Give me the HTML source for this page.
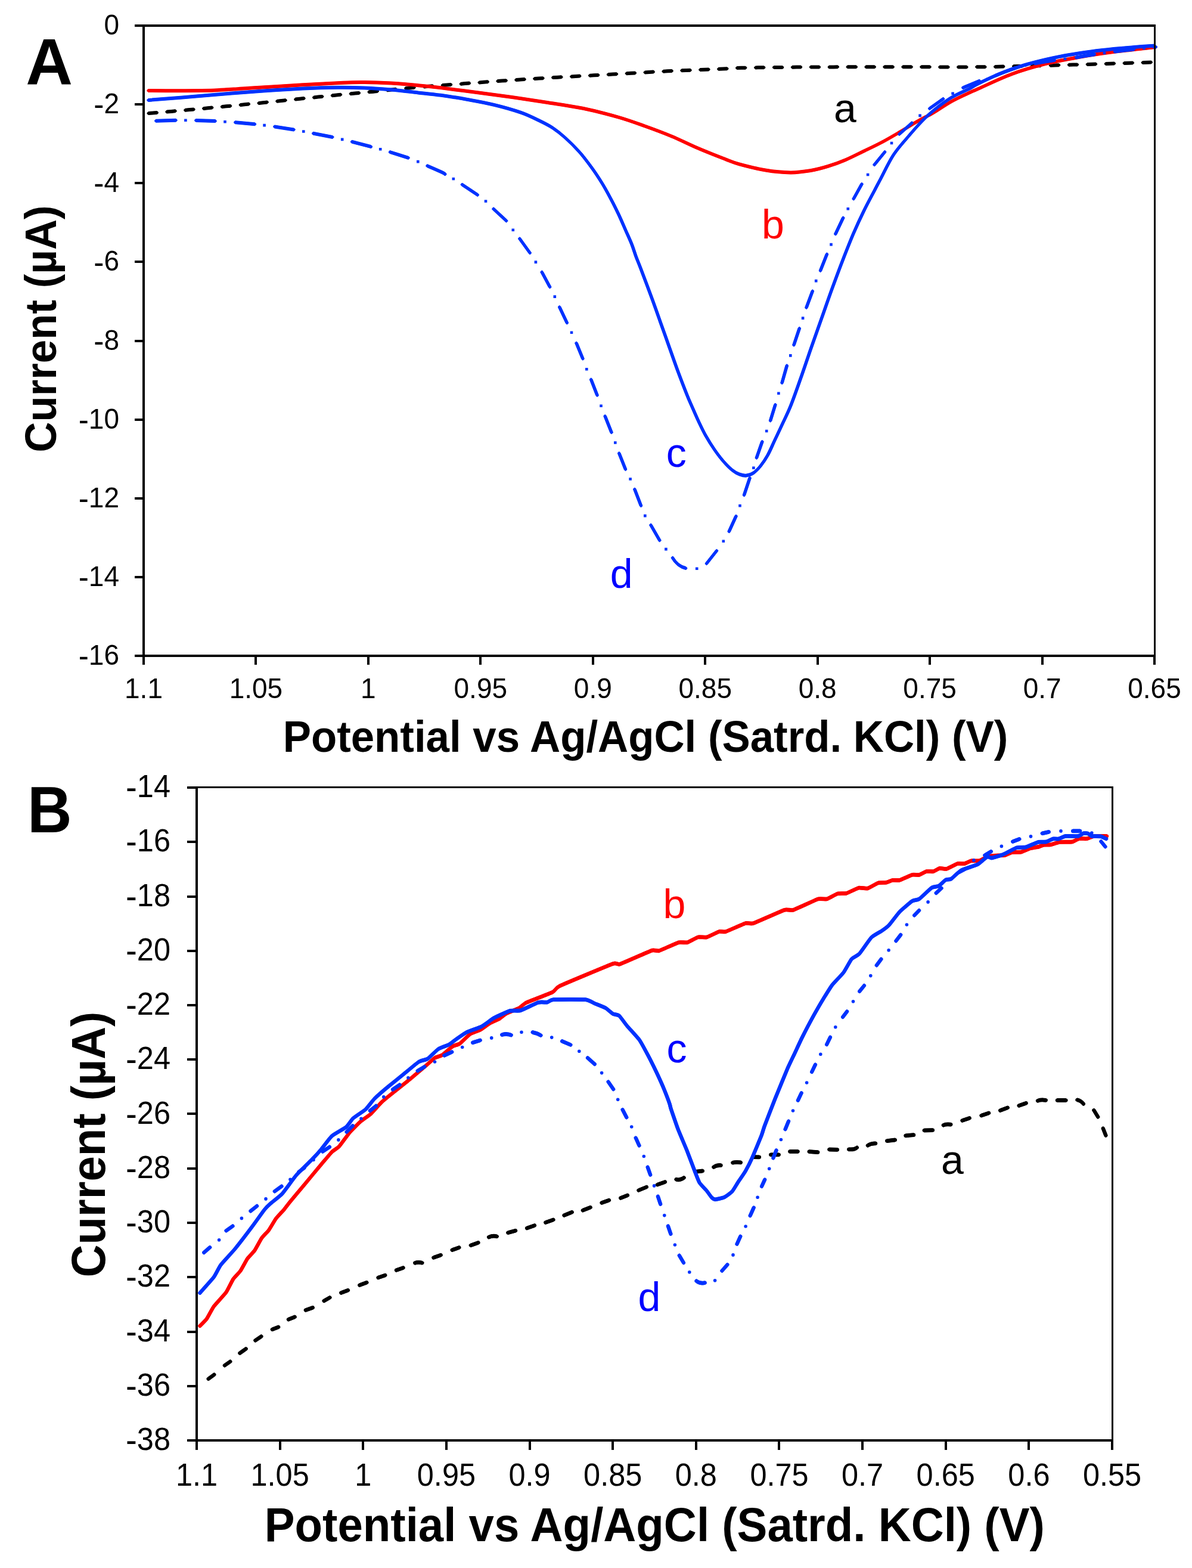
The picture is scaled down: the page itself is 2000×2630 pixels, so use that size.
<!DOCTYPE html>
<html lang="en">
<head>
<meta charset="utf-8">
<title>Figure: voltammograms A and B</title>
<style>
html,body{margin:0;padding:0;background:#fff;}
body{width:2000px;height:2630px;overflow:hidden;font-family:"Liberation Sans",Arial,Helvetica,sans-serif;}
svg{display:block;}
text{font-family:"Liberation Sans",Arial,Helvetica,sans-serif;fill:#000;}
.ax{fill:#000;stroke:none;shape-rendering:crispEdges;}
.yt text{text-anchor:end;}
.xt text{text-anchor:middle;}
.ttl,.pl{font-weight:bold;}
.cv g{fill:none;stroke-linecap:round;stroke-linejoin:round;}
.r{stroke:#ff0000;}
.b{stroke:#0033ff;}
.k{stroke:#000;}
</style>
</head>
<body>
<svg width="2000" height="2630" viewBox="0 0 2000 2630">
<rect width="2000" height="2630" fill="#fff"/>
<g class="cv" id="chartA-curves">
<g class="k"><defs><path id="p1" d="M249.2 190.1L256.2 189.5L263.2 189M280 187.6L287 187L294 186.3M310.9 184.8L317.9 184.1L324.9 183.5M341.7 181.9L348.7 181.3L355.7 180.6M372.5 179L379.5 178.3L386.5 177.7M403.4 176L410.4 175.3L417.4 174.6M434.2 172.9L441.2 172.2L448.2 171.4M465 169.7L472 169L479 168.3M495.9 166.6L502.9 165.8L509.9 165.1M526.7 163.4L533.7 162.6L540.7 161.9M557.5 160.2L564.5 159.5L571.5 158.8M588.4 157.2L595.4 156.5L602.4 155.9M619.2 154.3L626.2 153.7L633.2 153M650 151.3L657 150.5L664 149.8M680.9 148.1L687.9 147.5L694.9 146.8M711.7 145.4L718.7 144.8L725.7 144.3M742.5 143L749.5 142.5L756.5 141.9M773.4 140.7L780.4 140.1L787.4 139.6M804.2 138.4L811.2 137.8L818.2 137.3M835.1 136.1L842.1 135.6L849.1 135.2M866 134L873 133.6L880 133.1M896.9 132L903.9 131.6L910.9 131.2M927.8 130.1L934.8 129.7L941.8 129.3M958.7 128.4L965.7 128L972.7 127.6M989.6 126.7L996.6 126.3L1003.6 125.9M1020.5 125L1027.5 124.6L1034.5 124.2M1051.4 123.2L1058.4 122.8L1065.4 122.4M1082.2 121.4L1089.2 121L1096.2 120.6M1113.1 119.7L1120.1 119.3L1127.1 119M1144 118.3L1151 118L1158 117.7M1174.9 117L1181.9 116.8L1188.9 116.5M1205.8 115.8L1212.8 115.5L1219.8 115.2M1236.7 114L1243.7 113.8L1250.7 113.7M1267.7 113.4L1274.7 113.3L1281.7 113.2M1298.6 113L1305.6 112.9L1312.6 112.9M1329.5 112.7L1336.5 112.6L1343.5 112.6M1360.4 112.5L1367.4 112.4L1374.4 112.4M1391.4 112.4L1398.4 112.4L1405.4 112.3M1422.3 112.3L1429.3 112.3L1436.3 112.3M1453.2 112.3L1460.2 112.3L1467.2 112.3M1484.1 112.3L1491.1 112.3L1498.1 112.3M1515.1 112.3L1522.1 112.3L1529.1 112.3M1546 112.3L1553 112.3L1560 112.3M1576.9 112.4L1583.9 112.4L1590.9 112.4M1607.8 112.4L1614.8 112.4L1621.8 112.4M1638.8 112.3L1645.8 112.2L1652.8 112.2M1669.7 111.9L1676.7 111.8L1683.7 111.6M1700.6 111.3L1707.7 111.1L1714.7 110.9M1731.6 110.5L1738.6 110.3L1745.6 110.2M1762.5 109.7L1769.6 109.5L1776.6 109.3M1793.5 108.8L1800.5 108.6L1807.5 108.4M1824.4 107.9L1831.4 107.7L1838.5 107.5M1855.4 107L1862.4 106.8L1869.4 106.5M1886.3 106L1893.3 105.7L1900.4 105.5M1917.3 104.9L1924.3 104.7L1931.3 104.5"/></defs><use href="#p1" stroke-width="5.0"/><use href="#p1" x="0" y="-2.3" stroke-width="1.4"/><use href="#p1" x="0" y="2.3" stroke-width="1.4"/><use href="#p1" x="-2.15" y="0" stroke-width="1.4"/><use href="#p1" x="2.15" y="0" stroke-width="1.4"/></g>
<g class="r"><defs><path id="p2" d="M249 152.1C255.8 152.1 275.1 152.2 290 152.2C304.9 152.2 325.7 152.1 338.2 151.9C350.7 151.7 356 151.6 365 151.2C374 150.8 383.1 150.2 392 149.6C400.9 149 399.3 149 418.6 147.8C437.9 146.6 481.6 143.8 507.9 142.3C534.2 140.8 558.9 139.4 576.3 138.7C593.6 138 598.6 137.9 612 138.1C625.4 138.2 641.8 138.8 656.7 139.6C671.6 140.4 687.4 141.9 701.3 143.2C715.2 144.5 723.6 145.3 740 147.3C756.4 149.3 779.7 152.5 799.5 155.1C819.3 157.7 839.1 160.3 859 163.1C878.9 165.9 898.8 168.9 918.6 172C938.5 175.1 958.3 177.7 978.1 181.8C997.9 185.9 1020.2 191.6 1037.6 196.6C1055 201.6 1067.4 206.3 1082.3 211.6C1097.2 216.9 1112 222.4 1126.9 228.6C1141.8 234.8 1156.6 242.5 1171.5 248.8C1186.4 255.2 1204.8 262.3 1216.2 266.7C1227.6 271.1 1228.6 272.2 1240 275.3C1251.4 278.4 1270.2 283.1 1284.6 285.5C1299 287.9 1313.9 289.3 1326.3 289.4C1338.7 289.5 1348.6 288 1359 286.3C1369.4 284.6 1378.9 282 1388.8 279C1398.7 276 1408.7 272.4 1418.6 268.2C1428.5 264 1438.4 258.8 1448.3 254C1458.2 249.2 1468.2 244.7 1478.1 239.4C1488 234.2 1498 228.3 1507.9 222.5C1517.8 216.7 1527.7 210.2 1537.6 204.5C1547.5 198.8 1557.5 194.1 1567.4 188.3C1577.3 182.5 1587.2 175.3 1597.1 169.8C1607 164.3 1619.8 158.7 1626.9 155.3C1634.1 151.9 1628.3 154.6 1640 149.5C1651.7 144.4 1678 131.6 1697 124.5C1716 117.4 1735.2 111.9 1754.3 107.1C1773.4 102.3 1792.4 99 1811.4 95.7C1830.5 92.4 1849.5 89.6 1868.6 87.1C1887.6 84.6 1914.3 81.8 1925.7 80.5C1937.1 79.2 1935.1 79.3 1937 79.1"/></defs><use href="#p2" stroke-width="5.0"/><use href="#p2" x="0" y="-2.3" stroke-width="1.4"/><use href="#p2" x="0" y="2.3" stroke-width="1.4"/><use href="#p2" x="-2.15" y="0" stroke-width="1.4"/><use href="#p2" x="2.15" y="0" stroke-width="1.4"/></g>
<g class="b"><defs><path id="p3" d="M261.7 202.7L295 201.8M328.8 202L361.1 203.1M394.8 205.3L427.5 208.2M460.8 212.4L493 217.4M525.7 223.8L557.8 229.9M590.6 237.8L622.4 246.1M654.5 255.1L685 264.7M717 278.2Q748.2 291.4 746.7 292.2M775.4 309.7L801.3 326.9M828 350.4L849.6 370.4M871.9 400.3L889.1 424.1M909.2 456.4L922.6 481.4M938.8 515.1L951.3 541.5M967.1 575.5L977.8 601.6M991.7 636.5L1002 662.9M1015.2 698.1L1026 725.3M1038.8 760.3L1049.5 787.2M1064.9 820.7L1075.5 848.2M1092 880.7L1106.8 906.4M1128.5 935.6Q1136.3 949.4 1150.6 953.1M1185.5 945.2L1202.5 923.8M1223.3 891.4L1234.9 865.9M1248.5 830.4L1258 801.9M1269.4 767.9L1278.8 740.9M1292.6 705.6L1300.8 678.9M1312.1 642.1L1320.3 613.3M1332 578.6L1341.3 550.8M1353 515.9L1363.3 488.3M1376.5 454L1387.4 426.4M1401.9 392.4L1414.7 365.4M1432.2 333.5L1445.9 308.8M1467.1 276.3L1484.6 254.9M1509 225L1530 206.2M1559.7 182L1582.6 165.9M1615.8 147.1L1643.4 135.8M1670.4 126.8Q1687 119.5 1703.6 114M1736.5 106.4Q1753 103.4 1769.5 101M1805.5 96.4Q1821 93.7 1836.5 91.3M1870.5 86.6Q1886.5 84.5 1902.5 82.8M1936.1 79Q1937.7 78.7 1939.4 78.8"/></defs><use href="#p3" stroke-width="5.0"/><use href="#p3" x="0" y="-2.3" stroke-width="1.4"/><use href="#p3" x="0" y="2.3" stroke-width="1.4"/><use href="#p3" x="-2.15" y="0" stroke-width="1.4"/><use href="#p3" x="2.15" y="0" stroke-width="1.4"/><path stroke-width="4.6" stroke-linecap="square" d="M311.4 201.8h0M377.5 204.2h0M443.6 210.1h0M509.3 220.5h0M574.2 233.9h0M638.2 250.3h0M701.3 271.1h0M760.8 300h0M815 337.5h0M860.8 385.7h0M898.9 439.6h0M930.8 497.6h0M959 557.7h0M984.3 619.3h0M1008.5 680.8h0M1032.3 742.5h0M1057.6 803.5h0M1082.3 865.1h0M1117.4 921.1h0M1169.2 953.8h0M1213.8 907.7h0M1241.5 848.2h0M1264.4 784.8h0M1286.2 723h0M1306.4 659.8h0M1326.3 596.4h0M1347.1 533.6h0M1369.2 471.1h0M1394.5 410.1h0M1422.8 350.2h0M1456.1 293h0M1496 240h0M1543.6 193.9h0M1598.6 156.7h0M1657.5 132.6h0M1720 109.6h0M1787 98.8h0M1853 88.9h0M1919.5 80.9h0"/></g>
<g class="b"><defs><path id="p4" d="M249 168C262.4 166.9 301 163.9 329.3 161.6C357.6 159.3 388.8 156.4 418.6 154.2C448.4 152 483.1 149.8 507.9 148.5C532.7 147.2 550 146.8 567.4 146.7C584.8 146.5 597.1 146.9 612 147.6C626.9 148.2 641.8 149.3 656.7 150.6C671.6 151.9 687.4 153.9 701.3 155.4C715.2 156.9 726.1 157.9 740 159.8C753.9 161.7 769.7 164.3 784.6 167C799.5 169.7 814.4 172.3 829.3 175.9C844.2 179.5 861.5 184.4 873.9 188.7C886.3 193 894.8 197.5 903.7 201.8C912.6 206.1 920.1 209.7 927.5 214.6C934.9 219.5 940.9 224.3 948.3 231C955.7 237.7 964.6 246.4 972.1 254.8C979.6 263.2 986.5 272.6 993 281.5C999.5 290.4 1005.3 299.4 1010.8 308.3C1016.2 317.2 1021.2 326.7 1025.7 335.1C1030.2 343.5 1033.6 350.5 1037.6 358.9C1041.6 367.3 1045.8 377.3 1049.5 385.7C1053.2 394.1 1057 402.1 1059.9 409.5C1062.8 416.9 1064.5 423.1 1067 430C1069.5 436.9 1070.8 439.2 1075.1 450.6C1079.4 462 1087.5 483.3 1093 498.2C1098.5 513.1 1103 526 1107.9 539.9C1112.9 553.8 1117.8 567.6 1122.7 581.5C1127.7 595.4 1132.6 609.8 1137.6 623.2C1142.6 636.6 1148.7 652.4 1152.5 661.9C1156.3 671.4 1156.9 672.5 1160.2 680C1163.5 687.5 1168.1 698.4 1172.1 706.8C1176.1 715.2 1179.5 722.7 1184 730.6C1188.5 738.5 1193.9 747.2 1198.9 754.4C1203.9 761.6 1208.8 768.1 1213.8 773.8C1218.8 779.5 1224.2 785 1228.7 788.6C1233.2 792.2 1236.6 794 1240.6 795.5C1244.6 797 1248.5 798 1252.5 797.6C1256.5 797.2 1260.4 795.8 1264.4 793.1C1268.4 790.4 1272.3 786.2 1276.3 781.2C1280.3 776.2 1284.2 770.5 1288.2 763.3C1292.2 756.1 1296.1 746.4 1300.1 738C1304.1 729.6 1307.5 722.4 1312 712.7C1316.5 703 1321.3 694 1326.9 680C1332.5 666 1339.9 644.6 1345.4 628.9C1351 613.2 1354.8 601.3 1360.2 585.7C1365.7 570.1 1372.1 552 1378.1 535.1C1384.1 518.2 1390 500.9 1396 484.5C1402 468.1 1407.8 452.3 1413.8 436.9C1419.8 421.5 1425.8 406.2 1431.7 392.3C1437.7 378.4 1443.5 365.8 1449.5 353.6C1455.5 341.4 1462.6 328.4 1467.4 319.3C1472.2 310.2 1472.8 308.9 1478.1 299C1483.3 289.1 1491.5 271.6 1498.9 260.2C1506.3 248.8 1514.8 239.9 1522.7 230.5C1530.6 221.1 1539 211.4 1546.5 203.7C1554 196 1559 191.2 1567.4 184.5C1575.8 177.8 1587.2 169.2 1597.1 163.2C1607 157.2 1619.8 152.3 1626.9 148.6C1634.1 144.9 1631.5 145.2 1640 141C1648.5 136.8 1665.3 128.7 1678 123.5C1690.7 118.3 1703.3 113.9 1716 110C1728.7 106.1 1741.6 103 1754.3 100C1767 97 1779.7 94.5 1792.4 92.2C1805.1 89.9 1817.8 88.1 1830.5 86.4C1843.2 84.7 1855.9 83.3 1868.6 82C1881.3 80.7 1895.4 79.7 1906.7 78.8C1918 77.9 1931.5 77.1 1936.5 76.8"/></defs><use href="#p4" stroke-width="5.0"/><use href="#p4" x="0" y="-2.3" stroke-width="1.4"/><use href="#p4" x="0" y="2.3" stroke-width="1.4"/><use href="#p4" x="-2.15" y="0" stroke-width="1.4"/><use href="#p4" x="2.15" y="0" stroke-width="1.4"/></g>
</g>
<path class="ax" d="M239 41H243V1115H239ZM226 41H241V45H226ZM241 41H1939V45H241ZM1936 41H1939V1100H1936ZM226 1098H1939V1102H226ZM226 173H241V177H226ZM226 305H241V309H226ZM226 437H241V441H226ZM226 570H241V574H226ZM226 702H241V706H226ZM226 834H241V838H226ZM226 966H241V970H226ZM427 1100H431V1115H427ZM616 1100H620V1115H616ZM804 1100H808V1115H804ZM993 1100H997V1115H993ZM1181 1100H1185V1115H1181ZM1370 1100H1374V1115H1370ZM1558 1100H1562V1115H1558ZM1747 1100H1751V1115H1747ZM1935 1100H1939V1115H1935Z"/>
<g class="tk yt" font-size="46">
<text transform="translate(200 58) scale(1 1.05)">0</text>
<text transform="translate(200 190.1) scale(1 1.05)"><tspan font-size="51.5" dy="3">-</tspan><tspan dx="0" dy="-3">2</tspan></text>
<text transform="translate(200 322.2) scale(1 1.05)"><tspan font-size="51.5" dy="3">-</tspan><tspan dx="0" dy="-3">4</tspan></text>
<text transform="translate(200 454.4) scale(1 1.05)"><tspan font-size="51.5" dy="3">-</tspan><tspan dx="0" dy="-3">6</tspan></text>
<text transform="translate(200 586.5) scale(1 1.05)"><tspan font-size="51.5" dy="3">-</tspan><tspan dx="0" dy="-3">8</tspan></text>
<text transform="translate(200 718.6) scale(1 1.05)"><tspan font-size="51.5" dy="3">-</tspan><tspan dx="0" dy="-3">10</tspan></text>
<text transform="translate(200 850.8) scale(1 1.05)"><tspan font-size="51.5" dy="3">-</tspan><tspan dx="0" dy="-3">12</tspan></text>
<text transform="translate(200 982.9) scale(1 1.05)"><tspan font-size="51.5" dy="3">-</tspan><tspan dx="0" dy="-3">14</tspan></text>
<text transform="translate(200 1115) scale(1 1.05)"><tspan font-size="51.5" dy="3">-</tspan><tspan dx="0" dy="-3">16</tspan></text>
</g><g class="tk xt" font-size="46">
<text transform="translate(241 1170.5) scale(1 1.05)">1.1</text>
<text transform="translate(429.4 1170.5) scale(1 1.05)">1.05</text>
<text transform="translate(617.9 1170.5) scale(1 1.05)">1</text>
<text transform="translate(806.3 1170.5) scale(1 1.05)">0.95</text>
<text transform="translate(994.8 1170.5) scale(1 1.05)">0.9</text>
<text transform="translate(1183.2 1170.5) scale(1 1.05)">0.85</text>
<text transform="translate(1371.7 1170.5) scale(1 1.05)">0.8</text>
<text transform="translate(1560.1 1170.5) scale(1 1.05)">0.75</text>
<text transform="translate(1748.6 1170.5) scale(1 1.05)">0.7</text>
<text transform="translate(1937 1170.5) scale(1 1.05)">0.65</text>
</g>
<g class="cv" id="chartB-curves">
<g class="k"><defs><path id="p5" d="M349.7 2312.8L359.3 2305.7M376.9 2290.3L386.3 2283.7M402.4 2269.6L412.7 2262.4M428.4 2248.3L438.4 2241.6M456.8 2229.9L467.2 2225.9M483.9 2213.2L494.7 2208.9M512.8 2197.5L524.8 2193.3M543.6 2182L553.4 2176.4M572.2 2168.5L584 2164.1M603.2 2155.7L615.4 2151.2M634.5 2143L646.3 2139M664.9 2130.5L676.6 2126.5M696.2 2118.3Q701.7 2116.6 708.4 2118.2M727.4 2109.4L739.7 2105.1M758.6 2096.7L770.4 2092.5M789.8 2088.8L802.5 2084.3M820 2075.1Q827.1 2071.9 833.8 2073.9M852.2 2067.7L865.1 2064.2M884 2060L897 2055.5M915.3 2050.5L928.5 2045.9M946.5 2038.5L959.8 2033.2M977.8 2030.2L990.7 2025.2M1009.5 2017.5L1022 2013.1M1041.2 2009.5L1053 2004.9M1071.4 1996.5L1084.9 1991M1102.8 1987.1L1116 1982.5M1134.5 1978.2Q1141 1980.2 1147.6 1975.4M1166.5 1965.4L1178.9 1964M1197.4 1957.6Q1202.5 1953.9 1209.5 1954.6M1229.3 1950.2Q1235.9 1948.7 1242.9 1949.9M1263.4 1940.5L1274 1940.9M1293.1 1936.8L1306.8 1936.8M1325.3 1931.4L1338.6 1931.4M1357.7 1931.6L1372.2 1932.7M1391.3 1928L1405 1928.4M1424.1 1927.8Q1433 1928.7 1437.9 1924.9M1455.9 1921.3Q1461.5 1917.6 1469.1 1917.9M1488.2 1913.7L1501.9 1912M1519.5 1904.8L1533.1 1903.7M1550.7 1896L1565 1895.6M1582.8 1887.3Q1586.9 1885.2 1595.3 1886.2M1614.5 1879.5L1626.8 1875.4M1646.5 1871.1L1659.2 1866.9M1678.1 1862.7L1690.8 1857.9M1709.6 1854.5L1721.7 1850.3M1741 1846.3Q1746 1844.1 1754.9 1845.4M1773.9 1845.5L1788.5 1845.5M1807.4 1844.8Q1813.3 1845.9 1817.9 1851.5M1835.4 1862.2L1842.2 1873.4M1850.8 1892.7L1855.4 1904.5"/></defs><use href="#p5" stroke-width="6.2"/><use href="#p5" x="0" y="-2.8" stroke-width="1.2"/><use href="#p5" x="0" y="2.8" stroke-width="1.2"/><use href="#p5" x="-2.5" y="0" stroke-width="1.2"/><use href="#p5" x="2.5" y="0" stroke-width="1.2"/></g>
<g class="r"><defs><path id="p6" d="M335.5 2224C336.2 2223.3 345.4 2214.1 346.8 2212.1C348.2 2210.1 356.7 2194.1 358.7 2191.3C360.7 2188.5 377.5 2170.4 379.5 2167.5C381.5 2164.6 389.9 2147.4 391.4 2145.2C392.9 2143 401.8 2133.9 403.3 2131.8C404.8 2129.7 413.7 2113.1 415.2 2111C416.7 2108.9 425.6 2099.7 427.1 2097.6C428.6 2095.5 437.5 2078.8 439 2076.7C440.5 2074.6 449.5 2065.3 451 2063.3C452.5 2061.3 461.3 2046.2 462.9 2044C464.5 2041.8 475 2030.7 476.5 2028.9C478 2027.1 484.6 2018.2 486.7 2015.7C488.8 2013.2 506 1992.6 509.3 1988.7C512.6 1984.8 536 1956.5 539 1953C542 1949.5 555 1934 556.9 1932.1C558.8 1930.2 566.9 1925.2 568.8 1923.2C570.7 1921.2 584.5 1902 586.7 1899.4C588.9 1896.8 602.3 1883.5 604.5 1881.5C606.7 1879.5 620.2 1870.2 622.4 1868.2C624.6 1866.2 638 1850.9 640.2 1848.8C642.4 1846.7 655.1 1836.3 658.1 1833.9C661.1 1831.5 684.2 1813.2 687.9 1810.1C691.6 1807 715 1787 717.6 1784.8C720.2 1782.6 728 1775.3 729.5 1774.4C731 1773.5 739.5 1771.1 741.4 1769.9C743.3 1768.7 757.4 1756.3 759.3 1755.1C761.2 1753.9 769.3 1751.9 771.2 1750.6C773.1 1749.3 786.8 1735.7 789 1734.2C791.2 1732.7 804.9 1727.9 806.9 1726.8C808.9 1725.7 819.9 1717.5 821.8 1716.4C823.7 1715.3 836.1 1709.8 837.9 1708.8C839.6 1707.8 847.8 1701 849.8 1699.9C851.8 1698.8 868.6 1692.1 870.6 1691C872.6 1689.9 879 1683.7 882.5 1682C886 1680.3 923.6 1666 927.1 1664.2C930.6 1662.4 932.7 1656.8 939 1653.8C945.3 1650.8 1022 1618.8 1028.3 1616.5C1034.6 1614.2 1036.1 1618.5 1040.2 1617.1C1044.3 1615.7 1089.7 1595.6 1093.8 1594.2C1097.9 1592.8 1102.9 1595.6 1105.7 1594.8C1108.5 1594 1135.5 1581.7 1138.5 1580.8C1141.5 1579.9 1151.3 1581.4 1153.3 1580.8C1155.3 1580.2 1169.2 1572.5 1171.2 1571.9C1173.2 1571.3 1183.9 1572.5 1186.1 1571.9C1188.3 1571.3 1204.9 1563 1206.9 1562.4C1208.9 1561.8 1215.2 1563.5 1217.9 1562.6C1220.6 1561.7 1247.7 1549.5 1250.6 1548.6C1253.5 1547.7 1259.9 1550 1264 1548.6C1268.1 1547.2 1311.9 1527.7 1316.1 1526.3C1320.3 1524.9 1327.5 1527.5 1331 1526.3C1334.5 1525.1 1369.1 1509.1 1372.6 1507.9C1376.1 1506.8 1385.5 1508.5 1387.5 1507.9C1389.5 1507.3 1403.4 1499.5 1405.4 1498.9C1407.4 1498.3 1418 1498.9 1420.2 1498.3C1422.4 1497.7 1438.9 1489.6 1441.1 1489.1C1443.3 1488.6 1454 1490.5 1456 1490C1458 1489.5 1471.8 1481.4 1473.8 1480.8C1475.8 1480.2 1485.7 1480.5 1487.2 1480.2C1488.7 1479.9 1496.2 1476.5 1497.6 1476.3C1499 1476.1 1507.5 1476.9 1509.5 1476.3C1511.5 1475.7 1528.4 1468 1530.4 1467.4C1532.5 1466.8 1540.8 1467.8 1542.3 1467.4C1543.8 1467 1552.7 1462.1 1554.2 1461.7C1555.7 1461.3 1564.7 1462 1566.1 1461.7C1567.5 1461.4 1575.1 1456.7 1576.5 1456.4C1577.9 1456.1 1586.5 1457.8 1588.4 1457.3C1590.3 1456.8 1604.8 1449.1 1606.7 1448.6C1608.6 1448.1 1616.7 1448.9 1618.1 1448.6C1619.5 1448.3 1628 1444.1 1629.5 1443.8C1631 1443.5 1641.2 1444.2 1642.9 1443.8C1644.6 1443.4 1654.5 1437.6 1656.2 1437.1C1657.9 1436.6 1667.6 1435.4 1669.5 1435.2C1671.4 1435 1684.9 1434.7 1686.7 1434.3C1688.5 1433.9 1696.4 1429.8 1698.1 1429.5C1699.8 1429.2 1711.4 1429.5 1713.3 1429.1C1715.2 1428.7 1726.7 1423.5 1728.6 1422.9C1730.5 1422.3 1742.4 1420.4 1743.8 1420C1745.2 1419.6 1750.2 1417.3 1751.4 1417.1C1752.6 1416.9 1761.2 1417.1 1762.9 1416.8C1764.6 1416.5 1775.8 1412.7 1778.1 1412.4C1780.4 1412.1 1797 1412.4 1799 1412C1801 1411.6 1809 1407 1810.5 1406.7C1812 1406.4 1822.3 1407 1823.8 1406.7C1825.3 1406.4 1833.1 1402.8 1835.2 1402.5C1837.3 1402.2 1855.7 1402.5 1857.1 1402.5"/></defs><use href="#p6" stroke-width="6.2"/><use href="#p6" x="0" y="-2.8" stroke-width="1.2"/><use href="#p6" x="0" y="2.8" stroke-width="1.2"/><use href="#p6" x="-2.5" y="0" stroke-width="1.2"/><use href="#p6" x="2.5" y="0" stroke-width="1.2"/></g>
<g class="b"><defs><path id="p7" d="M342.2 2100.9L352.2 2092.2M379.5 2064.2L390.5 2056.5M420.5 2031.3L431.1 2022.9M460.8 1998.2L472.5 1989.8M501.3 1965.7L510.6 1958.7M541.4 1931.5L553 1923.8M581.5 1898.6L591.8 1888.3M620.9 1863L631 1854.9M659 1827.4L670.6 1819.6M700.7 1796.1L712.3 1789.3M745.4 1770.3L758.3 1764.5M793.1 1748.8L805.8 1744.9M842.1 1735.6Q850.1 1733.1 857.7 1736.2M893.6 1731.5Q901.5 1732.9 907.4 1736.6M943 1746.4L957.4 1752.5M986 1774.4L997.8 1784.9M1020.6 1814.5L1029.2 1827M1044.6 1861.3L1051.3 1874.2M1066.7 1908.6L1072.5 1921.5M1086.7 1957.7L1091.2 1970.6M1103.9 2006.8L1108.2 2019.7M1120.9 2056.5L1125.4 2069.7M1139.8 2105.8L1147 2118M1168.5 2148.6Q1174.4 2153.5 1182.8 2151.7M1211.4 2131.5L1220.4 2121.2M1236.5 2086.7L1242.3 2073.8M1258.7 2039.1L1264.7 2025.6M1278 1990L1283.2 1978.6M1297.4 1942.3L1302.5 1929.5M1317.6 1894.1L1323.1 1880.6M1338.9 1845.6L1344.7 1833.3M1362.1 1798L1368 1785.7M1387.1 1752L1393 1739.8M1414.1 1705.9L1421.1 1696.6M1442.2 1662.8L1450 1653.1M1470.8 1619.1L1478.4 1608.8M1503.4 1578.2L1511.2 1568M1534.1 1535.3L1542.1 1527.1M1570.7 1497.9L1579.6 1489.8M1609.5 1462.7L1619 1457.7M1652.3 1434.6L1662.9 1428.2M1699.1 1411.6L1710.4 1407.4M1748.7 1397.9L1759.9 1395.4M1800.1 1393.9L1812.2 1393.9M1847.4 1411.4L1854.5 1420.1"/></defs><use href="#p7" stroke-width="6.2"/><use href="#p7" x="0" y="-2.8" stroke-width="1.2"/><use href="#p7" x="0" y="2.8" stroke-width="1.2"/><use href="#p7" x="-2.5" y="0" stroke-width="1.2"/><use href="#p7" x="2.5" y="0" stroke-width="1.2"/><path stroke-width="5.6" stroke-linecap="round" d="M367.6 2079.7h0M405.4 2043.4h0M446 2010.9h0M487 1978.3h0M526 1945.5h0M567.9 1911.9h0M606 1876.2h0M643.8 1839.9h0M684.9 1807.7h0M729.5 1781h0M775.7 1756.5h0M824.7 1740.9h0M875 1731.2h0M925.7 1740.1h0M971.8 1763.3h0M1009.6 1799.6h0M1036.7 1844.2h0M1059.7 1890h0M1080.3 1939.5h0M1097.6 1988.9h0M1114.8 2038.6h0M1132.4 2088h0M1156.8 2133.8h0M1199.6 2147.8h0M1230 2104.9h0M1251.1 2057h0M1271.1 2008.2h0M1290.7 1960.3h0M1310.4 1911.5h0M1330.5 1863h0M1353.6 1816h0M1376.8 1768.2h0M1401.8 1722.7h0M1431.5 1679.7h0M1460.8 1636.6h0M1491.1 1593.7h0M1521.4 1551h0M1557.1 1512.9h0M1595.8 1474.6h0M1633.9 1442.9h0M1680.4 1419.4h0M1729.5 1402.9h0M1780 1393.9h0M1831.8 1397.1h0"/></g>
<g class="b"><defs><path id="p8" d="M335.5 2168.6C337.4 2166.4 355.8 2146.1 358.7 2142.2C361.6 2138.3 367.6 2125.4 370.6 2121.4C373.6 2117.4 389.9 2100.1 394.4 2094.6C398.9 2089.1 420.1 2061.4 424.2 2055.9C428.3 2050.4 441.3 2032 443.8 2028.9C446.3 2025.8 451.4 2020.9 453.9 2018.7C456.4 2016.5 470 2006.1 473.6 2002.1C477.2 1998.1 493.2 1975.6 497.4 1970.8C501.6 1966 520.7 1947.6 524.2 1944C527.7 1940.4 536.3 1930.9 539 1927.7C541.7 1924.5 553.4 1908.5 556.9 1905.4C560.4 1902.3 577.7 1893 580.7 1890.5C583.7 1888 589.9 1878.1 592.6 1875.6C595.3 1873.1 610.5 1863.4 613.5 1860.7C616.5 1858 625.1 1846.1 628.3 1842.9C631.5 1839.7 648.1 1825.3 652.1 1822C656.1 1818.7 671.8 1806.1 676 1802.7C680.2 1799.3 699.2 1783.2 702.7 1781C706.2 1778.8 714.9 1777.7 717.6 1775.9C720.3 1774.1 732.5 1761.5 735.5 1759.5C738.5 1757.5 750.8 1753.5 753.3 1752.1C755.8 1750.7 762.7 1744.9 765.2 1743.2C767.7 1741.5 779.6 1733 783.1 1731.3C786.6 1729.6 803.9 1723.7 806.9 1722.3C809.9 1720.9 817 1715.7 818.8 1714.4C820.6 1713.2 825.8 1708.9 828.9 1707.3C832 1705.7 852 1696.4 855.7 1695.4C859.4 1694.4 869.6 1696 873.6 1694.8C877.6 1693.6 899.6 1682.5 903.3 1681.4C907 1680.3 916.1 1681.5 918.2 1681.1C920.3 1680.7 923.3 1677.1 928.6 1676.7C933.9 1676.3 976.4 1676.1 982.2 1676.7C988 1677.3 995.8 1682.3 998.6 1683.5C1001.5 1684.7 1013.9 1689.5 1016.4 1690.9C1018.9 1692.3 1026.4 1699.5 1028.3 1700.5C1030.2 1701.5 1036.8 1701.8 1038.8 1703.5C1040.8 1705.2 1049.2 1717.3 1052.1 1720.7C1054.9 1724.1 1070 1740.3 1073 1744.5C1076 1748.7 1085.4 1766.6 1087.9 1771.3C1090.4 1776 1100.5 1796.4 1102.7 1801.1C1104.9 1805.8 1112.9 1823.7 1114.6 1827.9C1116.3 1832.1 1122.7 1849 1123.6 1851.7C1124.5 1854.4 1124.6 1856.5 1125.8 1860C1127 1863.5 1135.5 1888.4 1137.7 1894.2C1139.9 1900 1150.4 1924.3 1152.6 1929.9C1154.8 1935.5 1162.8 1956.7 1164.5 1961.2C1166.2 1965.7 1171.8 1980.5 1173.5 1983.5C1175.2 1986.5 1183.7 1994.8 1185.4 1996.9C1187.1 1999 1193.1 2007.6 1194.3 2008.8C1195.5 2010 1198.5 2011.8 1200.2 2011.8C1201.9 2011.8 1212.7 2009.3 1215.1 2008.2C1217.5 2007.1 1226.5 2000.6 1228.5 1998.4C1230.5 1996.2 1237 1984.8 1238.9 1982C1240.8 1979.2 1248.8 1967.7 1250.8 1964.2C1252.8 1960.7 1260.5 1945.4 1262.7 1940.4C1264.9 1935.4 1275.9 1908.9 1277.6 1904.6C1279.3 1900.3 1280.8 1894.1 1282.7 1888.9C1284.6 1883.7 1297.4 1850.8 1300.6 1842.7C1303.8 1834.6 1318.8 1798.3 1321.4 1792.1C1324.1 1785.9 1330.4 1773 1332.4 1768.8C1334.4 1764.6 1343.3 1745.3 1345.2 1741.5C1347.1 1737.7 1353 1726.1 1354.8 1722.7C1356.6 1719.3 1364.3 1704.9 1366.5 1701C1368.7 1697.1 1378.5 1680.1 1381 1676.1C1383.5 1672.1 1393.1 1656.3 1396 1652.5C1398.9 1648.7 1412.8 1634.7 1415.5 1631C1418.2 1627.3 1426.7 1611.2 1428.9 1608.6C1431.1 1606 1439.2 1602.7 1442 1599.7C1444.8 1596.7 1458.9 1575.6 1462 1572.4C1465.1 1569.2 1476.7 1563.2 1479.2 1561.5C1481.7 1559.8 1489.2 1554.3 1491.7 1551.6C1494.2 1548.9 1506.3 1532.6 1509.5 1529.3C1512.7 1526 1527.7 1513.2 1530.4 1511.4C1533.1 1509.6 1539.6 1509.8 1542.3 1507.9C1545 1506 1560.4 1490.9 1563.1 1489.1C1565.8 1487.3 1573 1487.2 1575 1486.1C1577 1485 1585.2 1476.7 1586.9 1475.7C1588.6 1474.7 1593.7 1475.5 1595.8 1474.2C1597.9 1472.9 1608.6 1462.1 1612.4 1460C1616.2 1457.9 1637.3 1451.4 1641 1449.5C1644.7 1447.6 1654.3 1438 1656.2 1437.1C1658.1 1436.2 1661.6 1439.3 1663.8 1439C1666 1438.7 1679.4 1434.7 1682.9 1433.3C1686.4 1431.9 1702.5 1422.9 1705.7 1421.9C1708.9 1420.9 1718 1421.8 1721 1421C1724 1420.2 1739.1 1413.2 1741.9 1412.4C1744.8 1411.7 1753.1 1412.5 1755.2 1412C1757.3 1411.5 1765 1407.4 1766.7 1407C1768.5 1406.6 1774.5 1407.4 1776.2 1407C1777.9 1406.6 1784.9 1402.9 1787.6 1402.5C1790.3 1402.1 1806.1 1402.9 1808.6 1402.5C1811.1 1402.1 1816.7 1398.1 1818.1 1397.7C1819.5 1397.3 1824.6 1397.7 1825.7 1398.1C1826.8 1398.5 1829.7 1402.1 1831.4 1402.5C1833.2 1402.9 1844.6 1402.5 1846.7 1402.9C1848.8 1403.3 1855.4 1406.7 1856.2 1407"/></defs><use href="#p8" stroke-width="6.2"/><use href="#p8" x="0" y="-2.8" stroke-width="1.2"/><use href="#p8" x="0" y="2.8" stroke-width="1.2"/><use href="#p8" x="-2.5" y="0" stroke-width="1.2"/><use href="#p8" x="2.5" y="0" stroke-width="1.2"/></g>
</g>
<path class="ax" d="M328 1319H332V2432H328ZM314 1319H330V1323H314ZM330 1319H1868V1322H330ZM1865 1319H1868V2416H1865ZM314 2414H1868V2418H314ZM314 1410H330V1414H314ZM314 1502H330V1506H314ZM314 1593H330V1597H314ZM314 1684H330V1688H314ZM314 1775H330V1779H314ZM314 1866H330V1870H314ZM314 1958H330V1962H314ZM314 2049H330V2053H314ZM314 2140H330V2144H314ZM314 2232H330V2236H314ZM314 2323H330V2327H314ZM468 2416H472V2432H468ZM607 2416H611V2432H607ZM747 2416H751V2432H747ZM887 2416H891V2432H887ZM1026 2416H1030V2432H1026ZM1166 2416H1170V2432H1166ZM1305 2416H1309V2432H1305ZM1445 2416H1449V2432H1445ZM1585 2416H1589V2432H1585ZM1724 2416H1728V2432H1724ZM1864 2416H1868V2432H1864Z"/>
<g class="tk yt" font-size="50.5">
<text transform="translate(286 1337) scale(1 1.045)"><tspan font-size="56.6" dy="3">-</tspan><tspan dx="0" dy="-3">14</tspan></text>
<text transform="translate(286 1428.2) scale(1 1.045)"><tspan font-size="56.6" dy="3">-</tspan><tspan dx="0" dy="-3">16</tspan></text>
<text transform="translate(286 1519.5) scale(1 1.045)"><tspan font-size="56.6" dy="3">-</tspan><tspan dx="0" dy="-3">18</tspan></text>
<text transform="translate(286 1610.8) scale(1 1.045)"><tspan font-size="56.6" dy="3">-</tspan><tspan dx="0" dy="-3">20</tspan></text>
<text transform="translate(286 1702) scale(1 1.045)"><tspan font-size="56.6" dy="3">-</tspan><tspan dx="0" dy="-3">22</tspan></text>
<text transform="translate(286 1793.2) scale(1 1.045)"><tspan font-size="56.6" dy="3">-</tspan><tspan dx="0" dy="-3">24</tspan></text>
<text transform="translate(286 1884.5) scale(1 1.045)"><tspan font-size="56.6" dy="3">-</tspan><tspan dx="0" dy="-3">26</tspan></text>
<text transform="translate(286 1975.8) scale(1 1.045)"><tspan font-size="56.6" dy="3">-</tspan><tspan dx="0" dy="-3">28</tspan></text>
<text transform="translate(286 2067) scale(1 1.045)"><tspan font-size="56.6" dy="3">-</tspan><tspan dx="0" dy="-3">30</tspan></text>
<text transform="translate(286 2158.2) scale(1 1.045)"><tspan font-size="56.6" dy="3">-</tspan><tspan dx="0" dy="-3">32</tspan></text>
<text transform="translate(286 2249.5) scale(1 1.045)"><tspan font-size="56.6" dy="3">-</tspan><tspan dx="0" dy="-3">34</tspan></text>
<text transform="translate(286 2340.8) scale(1 1.045)"><tspan font-size="56.6" dy="3">-</tspan><tspan dx="0" dy="-3">36</tspan></text>
<text transform="translate(286 2432) scale(1 1.045)"><tspan font-size="56.6" dy="3">-</tspan><tspan dx="0" dy="-3">38</tspan></text>
</g><g class="tk xt" font-size="50.5">
<text transform="translate(330 2492.4) scale(1 1.045)">1.1</text>
<text transform="translate(469.6 2492.4) scale(1 1.045)">1.05</text>
<text transform="translate(609.3 2492.4) scale(1 1.045)">1</text>
<text transform="translate(748.9 2492.4) scale(1 1.045)">0.95</text>
<text transform="translate(888.5 2492.4) scale(1 1.045)">0.9</text>
<text transform="translate(1028.2 2492.4) scale(1 1.045)">0.85</text>
<text transform="translate(1167.8 2492.4) scale(1 1.045)">0.8</text>
<text transform="translate(1307.5 2492.4) scale(1 1.045)">0.75</text>
<text transform="translate(1447.1 2492.4) scale(1 1.045)">0.7</text>
<text transform="translate(1586.7 2492.4) scale(1 1.045)">0.65</text>
<text transform="translate(1726.4 2492.4) scale(1 1.045)">0.6</text>
<text transform="translate(1866 2492.4) scale(1 1.045)">0.55</text>
</g>
<text class="ttl" transform="translate(1083 1260.8) scale(1 1.04)" font-size="70.8" text-anchor="middle">Potential vs Ag/AgCl (Satrd. KCl) (V)</text>
<text class="ttl" transform="translate(1098.3 2584.8) scale(1 1.04)" font-size="76.2" text-anchor="middle">Potential vs Ag/AgCl (Satrd. KCl) (V)</text>
<text class="ttl" transform="translate(94.3 551.5) rotate(-90) scale(1 1.04)" font-size="70.8" text-anchor="middle">Current (µA)</text>
<text class="ttl" transform="translate(175.5 1919.5) rotate(-90) scale(1 1.04)" font-size="76.2" text-anchor="middle">Current (µA)</text>
<text class="pl" transform="translate(43.2 140.8)" font-size="109" text-anchor="start">A</text>
<text class="pl" transform="translate(46.1 1396) scale(1 1.055)" font-size="103.3" text-anchor="start">B</text>
<text class="lb" transform="translate(1418 205)" font-size="68" text-anchor="middle" style="fill:#000">a</text>
<text class="lb" transform="translate(1297 400.3)" font-size="68" text-anchor="middle" style="fill:#ff0000">b</text>
<text class="lb" transform="translate(1134.8 783.2)" font-size="68" text-anchor="middle" style="fill:#0000ff">c</text>
<text class="lb" transform="translate(1042.7 986.2)" font-size="68" text-anchor="middle" style="fill:#0000ff">d</text>
<text class="lb" transform="translate(1131.5 1540)" font-size="68" text-anchor="middle" style="fill:#ff0000">b</text>
<text class="lb" transform="translate(1135.5 1782)" font-size="68" text-anchor="middle" style="fill:#0000ff">c</text>
<text class="lb" transform="translate(1598 1968.7)" font-size="68" text-anchor="middle" style="fill:#000">a</text>
<text class="lb" transform="translate(1089.3 2199)" font-size="68" text-anchor="middle" style="fill:#0000ff">d</text>
</svg>
</body>
</html>
